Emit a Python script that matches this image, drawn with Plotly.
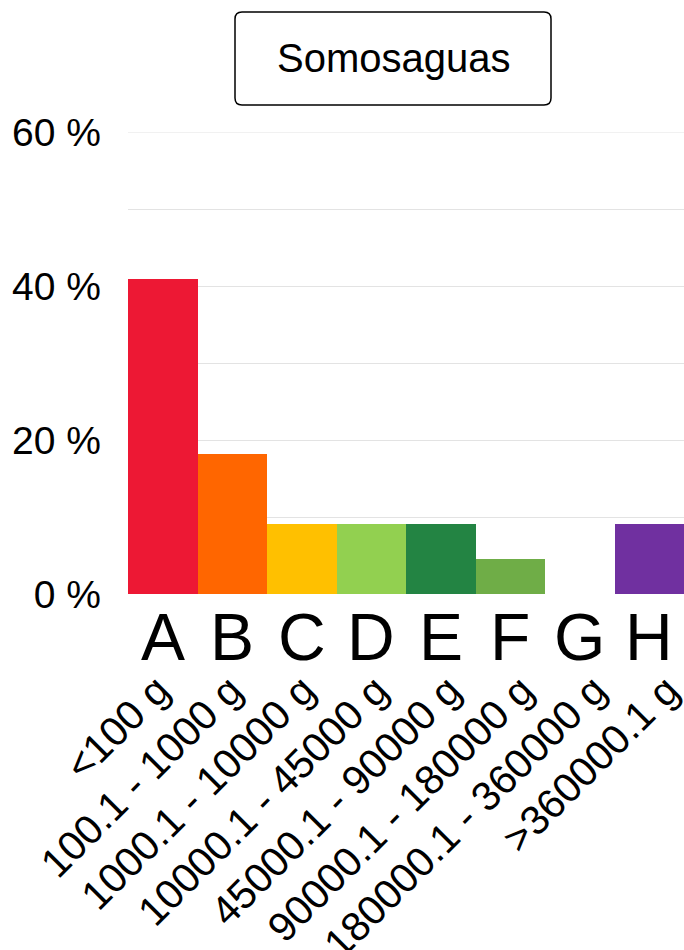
import plotly.graph_objects as go

categories = ["A", "B", "C", "D", "E", "F", "G", "H"]
ranges = ["<100 g", "100.1 - 1000 g", "1000.1 - 10000 g", "10000.1 - 45000 g",
          "45000.1 - 90000 g", "90000.1 - 180000 g", "180000.1 - 360000 g", ">360000.1 g"]
percent = [40.9, 18.2, 9.1, 9.1, 9.1, 4.5, 0.0, 9.1]
colors = ["#ED1834", "#FF6600", "#FFC000", "#92D050", "#238443", "#6FAD47", "#BBBBBB", "#7030A0"]
ytick_vals = [0, 10, 20, 30, 40, 50, 60]
ytick_text = ["0 %", "", "20 %", "", "40 %", "", "60 %"]
title_text = "Somosaguas"

W, H = 684, 950
L, R, T, B = 128, 0, 132, 356
FONT = "Liberation Sans, Arial, sans-serif"
GRID = "#E3E3E3"
# the rotated range labels sit on a slightly wider spacing than the bars
LABEL_RANGE = [-0.352, 7.285]

fig = go.Figure()
fig.add_trace(go.Bar(
    x=categories, y=percent, marker=dict(color=colors, line=dict(width=0)),
    hoverinfo="skip",
))
fig.add_trace(go.Scatter(x=[], y=[], xaxis="x2", yaxis="y", hoverinfo="skip", showlegend=False))

annotations = []
for c in categories:
    annotations.append(dict(
        x=c, xref="x", y=0, yref="paper", yanchor="top", xanchor="center",
        yshift=-4, text=c, showarrow=False,
        font=dict(family=FONT, size=66, color="black"),
    ))

pw, ph = W - L - R, H - T - B
cx = ((235 + 551) / 2 - L) / pw
cy = (H - B - (12 + 105) / 2) / ph
annotations.append(dict(
    x=cx, y=cy, xref="paper", yref="paper", xanchor="center", yanchor="middle",
    text=title_text, showarrow=False, font=dict(family=FONT, size=40, color="black"),
))

hw, hh, r = 158, 46.5, 7
path = (f"M {-hw + r},{-hh} L {hw - r},{-hh} Q {hw},{-hh} {hw},{-hh + r} "
        f"L {hw},{hh - r} Q {hw},{hh} {hw - r},{hh} L {-hw + r},{hh} "
        f"Q {-hw},{hh} {-hw},{hh - r} L {-hw},{-hh + r} Q {-hw},{-hh} {-hw + r},{-hh} Z")

fig.add_shape(type="path", xref="paper", yref="paper", xsizemode="pixel", ysizemode="pixel",
              xanchor=cx, yanchor=cy, path=path, line=dict(color="black", width=1.5),
              fillcolor="rgba(0,0,0,0)")
# top gridline (plotly hides the gridline lying on the plot edge)
fig.add_shape(type="line", xref="paper", yref="y", x0=0, x1=1, y0=ytick_vals[-1], y1=ytick_vals[-1],
              line=dict(color=GRID, width=1), layer="below")

fig.update_layout(
    width=W, height=H,
    margin=dict(l=L, r=R, t=T, b=B, autoexpand=False),
    paper_bgcolor="white", plot_bgcolor="white",
    bargap=0, showlegend=False, hovermode=False,
    annotations=annotations,
    xaxis=dict(
        type="category", range=[-0.5, 7.5],
        showticklabels=False,
        showgrid=False, showline=False, zeroline=False, ticks="",
    ),
    xaxis2=dict(
        type="linear", overlaying="x", anchor="y", side="bottom", range=LABEL_RANGE,
        tickmode="array", tickvals=list(range(len(ranges))), ticktext=ranges,
        tickangle=-45, ticklabelstandoff=63, ticklabelshift=4, ticklabeloverflow="allow",
        tickfont=dict(family=FONT, size=41, color="black"),
        showgrid=False, showline=False, zeroline=False, ticks="",
    ),
    yaxis=dict(
        range=[0, 60], tickmode="array", tickvals=ytick_vals, ticktext=ytick_text,
        tickfont=dict(family=FONT, size=39, color="black"),
        showgrid=True, gridcolor=GRID, gridwidth=1,
        zeroline=False, showline=False, ticks="", ticklabelstandoff=26,
    ),
)

fig.write_html(
    "out.html",
    config={"displayModeBar": False, "staticPlot": True},
    post_script="document.body.style.margin='0';document.body.style.overflow='hidden';",
)
